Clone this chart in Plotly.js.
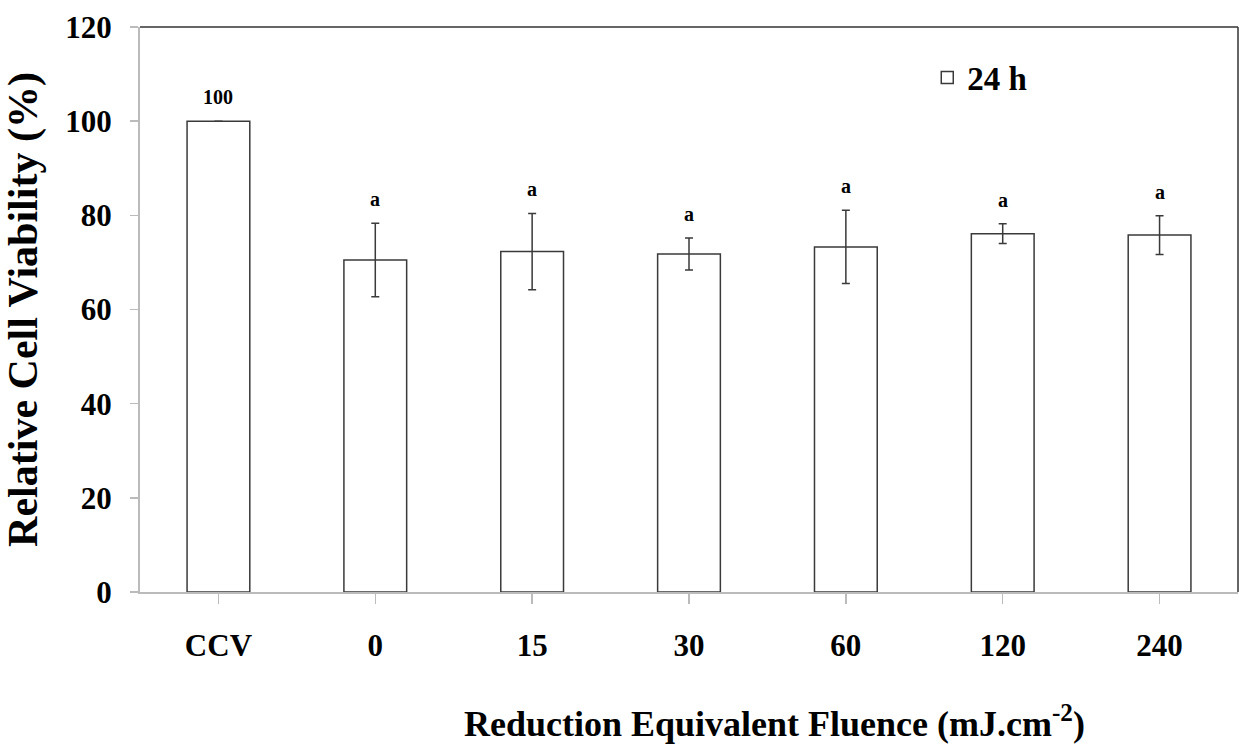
<!DOCTYPE html>
<html>
<head>
<meta charset="utf-8">
<script src="https://cdn.plot.ly/plotly-3.0.1.min.js"></script>
<style>html,body{margin:0;padding:0;background:#fff;}#chart{width:1239px;height:754px;}</style>
</head>
<body>
<div id="chart"></div>
<script>
const categories = ['CCV', '0', '15', '30', '60', '120', '240'];
const viability = [100, 70.5, 72.3, 71.8, 73.3, 76.1, 75.8];
const sdev = [null, 7.8, 8.1, 3.4, 7.8, 2.1, 4.1];
const sigLabels = ['100', 'a', 'a', 'a', 'a', 'a', 'a'];
const seriesName = '24 h';
const xTitle = 'Reduction Equivalent Fluence (mJ.cm<sup>-2</sup>)';
const yTitle = 'Relative Cell Viability (%)';

const FONT = 'Liberation Serif, Times New Roman, serif';

const trace = {
  type: 'bar',
  x: categories,
  y: viability,
  name: seriesName,
  marker: {color: '#ffffff', line: {color: '#3a3a3a', width: 1.5}},
  error_y: {type: 'data', array: sdev, visible: true, color: '#3a3a3a', thickness: 1.5, width: 4},
  showlegend: true,
  hoverinfo: 'x+y'
};

const annotations = categories.map((c, i) => ({
  x: i, y: viability[i] + (sdev[i] || 0),
  xref: 'x', yref: 'y',
  text: '<b>' + sigLabels[i] + '</b>',
  showarrow: false, yanchor: 'bottom', yshift: 11,
  font: {family: FONT, size: 20, color: '#000'}
}));
annotations.push({
  xref: 'paper', yref: 'paper', x: 0.578, y: -0.23,
  xanchor: 'center', yanchor: 'middle', showarrow: false,
  text: '<b>' + xTitle + '</b>',
  font: {family: FONT, size: 36, color: '#000'}
});

const layout = {
  width: 1239, height: 754,
  margin: {l: 140, r: 1, t: 27, b: 162},
  paper_bgcolor: '#fff', plot_bgcolor: '#fff',
  bargap: 0.6,
  showlegend: true,
  legend: {x: 0.717, y: 0.96, xanchor: 'left', yanchor: 'top', bgcolor: 'rgba(0,0,0,0)',
           font: {family: FONT, size: 33, color: '#000', weight: 'bold'}, itemwidth: 30},
  xaxis: {
    type: 'category',
    range: [-0.5, 6.5],
    showline: true, linecolor: '#bbbbbb', linewidth: 2,
    ticks: 'outside', ticklen: 10, tickcolor: '#bbbbbb', tickwidth: 1.5,
    ticklabelstandoff: 15,
    tickfont: {family: FONT, size: 31, color: '#000', weight: 'bold'},
    showgrid: false, zeroline: false
  },
  yaxis: {
    range: [0, 120], dtick: 20,
    showline: true, linecolor: '#bbbbbb', linewidth: 2,
    ticks: 'outside', ticklen: 8, tickcolor: '#bbbbbb', tickwidth: 1.5,
    ticklabelstandoff: 12,
    tickfont: {family: FONT, size: 31, color: '#000', weight: 'bold'},
    showgrid: false, zeroline: false,
    title: {text: '<b>' + yTitle + '</b>', standoff: 16,
            font: {family: FONT, size: 42, color: '#000'}}
  },
  shapes: [
    {type: 'line', xref: 'paper', yref: 'paper', x0: 0, x1: 1, y0: 1, y1: 1, line: {color: '#333', width: 1.5}},
    {type: 'line', xref: 'paper', yref: 'paper', x0: 1, x1: 1, y0: 0, y1: 1, line: {color: '#333', width: 1.5}}
  ],
  annotations: annotations
};

Plotly.newPlot('chart', [trace], layout, {displayModeBar: false, staticPlot: true});
</script>
</body>
</html>
